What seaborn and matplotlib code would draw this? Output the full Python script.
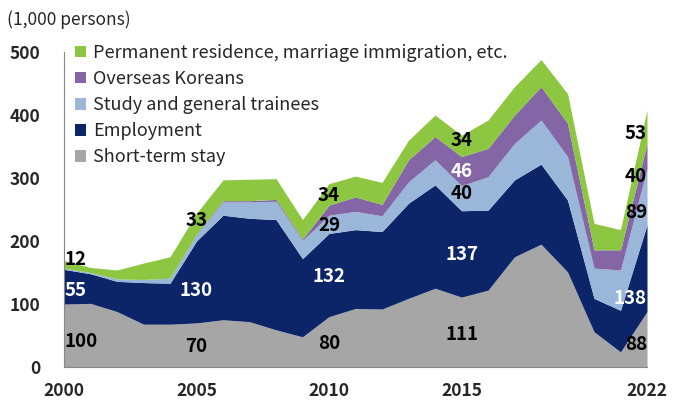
import numpy as np
import pandas as pd
import seaborn as sns
import matplotlib.pyplot as plt

years = list(range(2000, 2023))

# thousand persons
short_term = [100, 101, 88, 68, 68, 70, 75, 72, 59, 48, 80, 93, 92, 109, 125, 111, 122, 175, 195, 151, 56, 24, 88]
employment = [55, 47, 48, 66, 65, 130, 166, 164, 175, 124, 132, 125, 123, 151, 164, 137, 127, 122, 127, 114, 53, 66, 138]
study = [2, 2, 4, 5, 8, 10, 21, 26, 29, 29, 29, 29, 25, 34, 40, 40, 53, 58, 70, 69, 48, 64, 89]
overseas = [0, 0, 0, 0, 0, 1, 2, 2, 3, 2, 16, 23, 18, 35, 37, 46, 45, 45, 53, 53, 29, 32, 40]
permanent = [12, 8, 14, 26, 34, 33, 33, 34, 33, 31, 34, 33, 35, 31, 34, 34, 45, 45, 43, 47, 42, 32, 53]

series_names = ["Short-term stay", "Employment", "Study and general trainees",
                "Overseas Koreans", "Permanent residence, marriage immigration, etc."]
colors = ["#A6A6A6", "#0B2568", "#9AB6D8", "#8466A6", "#8DC641"]

df = pd.DataFrame({"year": years, series_names[0]: short_term, series_names[1]: employment,
                   series_names[2]: study, series_names[3]: overseas, series_names[4]: permanent})

# data labels: (year, series index, y position, colour, horizontal alignment)
labels = [
    (2000, 4, 170, "black", "left"), (2000, 1, 122, "white", "left"), (2000, 0, 40, "black", "left"),
    (2005, 4, 233, "black", "center"), (2005, 1, 121, "white", "center"), (2005, 0, 33, "black", "center"),
    (2010, 4, 273, "black", "center"), (2010, 2, 224, "black", "center"),
    (2010, 1, 143, "white", "center"), (2010, 0, 38, "black", "center"),
    (2015, 4, 360, "black", "center"), (2015, 3, 311, "white", "center"), (2015, 2, 275, "black", "center"),
    (2015, 1, 178, "white", "center"), (2015, 0, 52, "black", "center"),
    (2022, 4, 370, "black", "right"), (2022, 3, 302, "black", "right"), (2022, 2, 246, "black", "right"),
    (2022, 1, 108, "white", "right"), (2022, 0, 35, "black", "right"),
]

sns.set_style("white")
plt.rcParams["font.family"] = ["Noto Sans CJK KR", "DejaVu Sans"]

fig = plt.figure(figsize=(6.83, 4.03), dpi=100)
ax = fig.add_axes([0.0937, 0.0893, 0.8536, 0.7817])

bottom = np.zeros(len(years))
for name, col in zip(series_names, colors):
    vals = df[name].values
    ax.fill_between(df["year"], bottom, bottom + vals, color=col, linewidth=0, label=name)
    bottom = bottom + vals

for yr, si, ypos, col, ha in labels:
    val = df.loc[df["year"] == yr, series_names[si]].iloc[0]
    xpos = yr + 0.02 if ha == "left" else yr
    ax.text(xpos, ypos, str(val), color=col, ha=ha, va="center",
            fontsize=13.5, fontweight="bold")

ax.set_xlim(2000, 2022)
ax.set_ylim(0, 500)
ax.set_xticks([2000, 2005, 2010, 2015, 2022])
ax.set_xticks(years, minor=True)
ax.set_yticks(range(0, 501, 100))
ax.tick_params(axis="both", which="both", direction="out", length=5, color="#888888", width=0.8)
ax.tick_params(axis="x", which="major", pad=6)
ax.tick_params(axis="y", which="major", pad=12)
for lab in ax.get_xticklabels() + ax.get_yticklabels():
    lab.set_fontweight("bold")
    lab.set_fontsize(12.5)
sns.despine(ax=ax)
ax.spines["left"].set_color("#888888")
ax.spines["bottom"].set_color("#888888")

handles, names = ax.get_legend_handles_labels()
ax.legend(handles[::-1], names[::-1], loc="upper left", bbox_to_anchor=(0.0, 1.06), frameon=False,
          fontsize=13, handlelength=0.6, handleheight=0.6, handletextpad=0.4, labelspacing=0.45,
          borderaxespad=0.2)

fig.text(0.01, 0.95, "(1,000 persons)", fontsize=12.5, ha="left", va="center")

fig.savefig("out.png", dpi=100)
